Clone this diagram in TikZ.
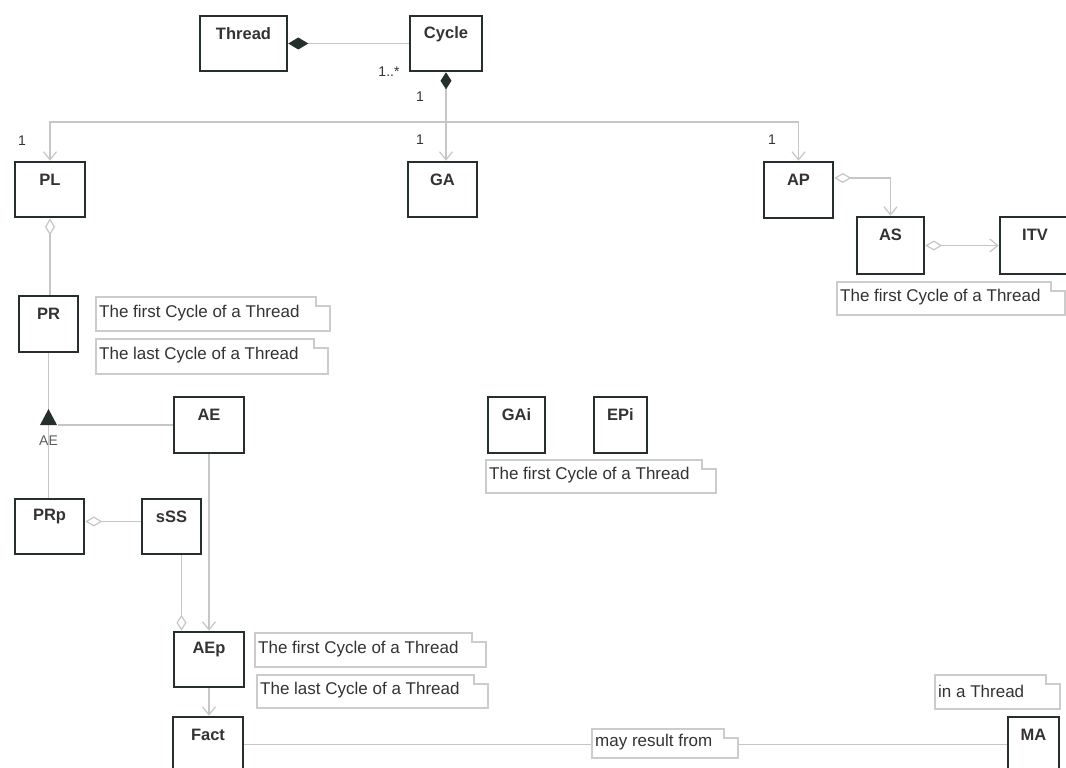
\documentclass[tikz,border=0pt]{standalone}
\usepackage{fontspec}
\setmainfont{Liberation Sans}
\usetikzlibrary{arrows.meta}
\definecolor{boxc}{HTML}{26302B}
\definecolor{linec}{HTML}{C6C6C6}
\definecolor{notec}{HTML}{CCCCCC}
\definecolor{txtc}{HTML}{333333}
\newcommand\mkbox[6]{%
  \node[umlbox, minimum width={#4-#2}, minimum height={#5-#3}] (#1) at ({(#2+#4)/2},{(#3+#5)/2}) {};
  \node[lbl] (#1t) at ({(#2+#4)/2},{#3+18}) {#6};}
\newcommand\mknote[6]{%
  \draw[noteline] (#2,#3) -- (#4-14,#3) -- (#4-14,#3+9) -- (#4,#3+9) -- (#4,#5) -- (#2,#5) -- cycle;
  \node[notetxt, anchor=west] (#1) at (#2+3,{(#3+#5)/2-1}) {#6};}
\begin{document}
\begin{tikzpicture}[x=1pt,y=-1pt,
  umlbox/.style={draw=boxc, line width=2.6pt, fill=white, inner sep=0pt},
  lbl/.style={font=\fontsize{16.5}{18}\selectfont\bfseries, text=txtc, inner sep=0pt},
  mult/.style={font=\fontsize{14}{16}\selectfont, text=txtc, inner sep=0pt},
  conn/.style={draw=linec, line width=1.2pt},
  noteline/.style={draw=notec, line width=1.2pt, fill=white},
  notetxt/.style={font=\fontsize{17}{19}\selectfont, text=txtc, inner sep=0pt},
  >={Straight Barb[length=8pt,width=13pt]}]
\fill[white] (0,0) rectangle (1066,768);
\path[clip] (0,0) rectangle (1066,768);

% boxes
\mkbox{thread}{200}{16}{287}{71}{Thread}
\mkbox{cycle}{410}{16}{482}{71}{Cycle}
\mkbox{pl}{15}{162}{85}{217}{PL}
\mkbox{ga}{408}{162}{477}{217}{GA}
\mkbox{ap}{764}{162}{833}{218}{AP}
\mkbox{as}{857}{217}{924}{274}{AS}
\mkbox{itv}{1000}{217}{1070}{274}{ITV}
\mkbox{pr}{19}{296}{78}{352}{PR}
\mkbox{ae}{174}{397}{244}{453}{AE}
\mkbox{gai}{488}{397}{545}{453}{GAi}
\mkbox{epi}{594}{397}{647}{453}{EPi}
\mkbox{prp}{15}{499}{84}{554}{PRp}
\mkbox{sss}{142}{499}{201}{554}{sSS}
\mkbox{aep}{174}{632}{244}{687}{AEp}
\mkbox{fact}{173}{717}{243}{772}{Fact}
\mkbox{ma}{1008}{717}{1059}{772}{MA}

% connectors
\draw[conn, {Diamond[length=20pt,width=12pt,color=boxc]}-] (thread.east) -- (cycle.west);
\coordinate (hub) at (446,122);
\draw[conn, {Diamond[length=17pt,width=11pt,color=boxc]}->] (cycle.south) -- (cycle.south |- ga.north);
\draw[conn, ->] (hub) -| (pl.north);
\draw[conn, ->] (hub) -| (ap.north);
\draw[conn, {Diamond[fill=white,length=17pt,width=10pt]}-] (pl.south) -- (pl.south |- pr.north);
\draw[conn] (pr.south) -- (pr.south |- prp.north);
\coordinate (tri) at (48.5,425);
\fill[boxc] ([yshift=16pt]tri) -- ([xshift=-8.5pt]tri) -- ([xshift=8.5pt]tri) -- cycle;
\draw[conn] (ae.west) -- ([xshift=9pt]tri);
\node[mult, text=txtc!80] (ael) at (48.5,441) {AE};
\draw[conn, {Diamond[fill=white,length=17pt,width=10pt]}-] ([yshift=5pt]prp.east) -- ([yshift=5pt]sss.west);
\draw[conn, -{Diamond[fill=white,length=16pt,width=10pt]}] ([xshift=10pt]sss.south) -- ([xshift=10pt]sss.south |- aep.north);
\draw[conn, ->] (ae.south) -- (aep.north);
\draw[conn, ->] (aep.south) -- (aep.south |- fact.north);
\draw[conn] (fact.east) -- (ma.west);
\draw[conn, {Diamond[fill=white,length=17pt,width=10pt]}->] ([yshift=12pt]ap.east) -| (as.north);
\draw[conn, {Diamond[fill=white,length=17pt,width=10pt]}->] (as.east) -- (itv.west);

% multiplicities
\node[mult] (m1) at (389,72) {1..*};
\node[mult] (m2) at (420,97) {1};
\node[mult] (m3) at (420,140) {1};
\node[mult] (m4) at (22,141) {1};
\node[mult] (m5) at (772,140) {1};

% notes
\mknote{n1}{96}{297}{330}{331}{The first Cycle of a Thread}
\mknote{n2}{96}{339}{328}{374}{The last Cycle of a Thread}
\mknote{n3}{837}{282}{1065}{315}{The first Cycle of a Thread}
\mknote{n4}{486}{460}{716}{493}{The first Cycle of a Thread}
\mknote{n5}{255}{633}{486}{667}{The first Cycle of a Thread}
\mknote{n6}{257}{675}{488}{708}{The last Cycle of a Thread}
\mknote{n7}{935}{675}{1060}{709}{in a Thread}
\mknote{n8}{592}{729}{738}{758}{may result from}
\end{tikzpicture}
\end{document}
